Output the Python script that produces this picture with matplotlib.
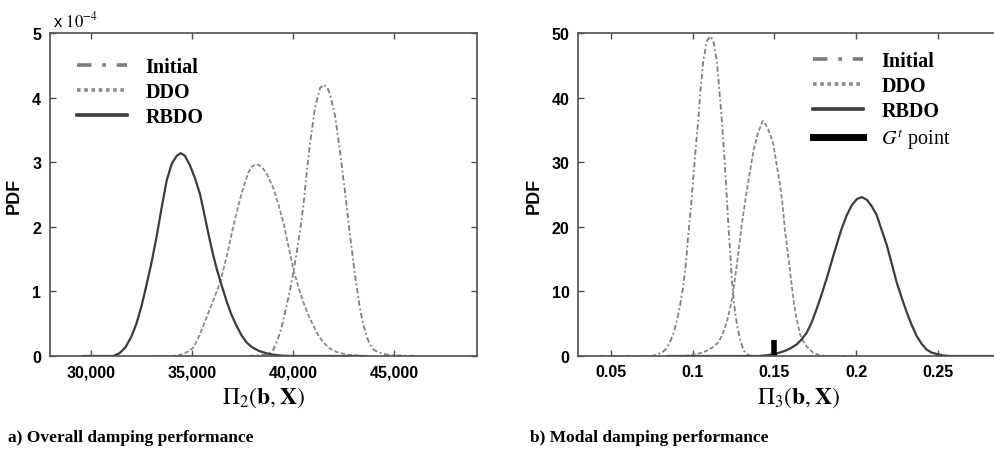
import matplotlib.pyplot as plt
from matplotlib.lines import Line2D

plt.rcParams['mathtext.fontset'] = 'stix'

# ---- panel a: PDF values in units of 1e-4 ----
a_rbdo_x = [29600, 31100, 31400, 31700, 32000, 32250, 32500, 32750, 33000, 33250, 33500,
            33750, 34000, 34250, 34440, 34650, 34900, 35150, 35400, 35560, 35726, 35890,
            36056, 36240, 36420, 36700, 36950, 37200, 37450, 37700, 37950, 38300, 38700,
            39026, 39500, 40000, 43600]
a_rbdo_y = [0, 0, 0.04, 0.13, 0.3, 0.5, 0.77, 1.1, 1.45, 1.85, 2.3,
            2.72, 2.98, 3.1, 3.14, 3.1, 2.95, 2.75, 2.5, 2.27, 2.02, 1.78,
            1.55, 1.33, 1.14, 0.86, 0.64, 0.47, 0.32, 0.21, 0.14, 0.08, 0.04,
            0.02, 0.005, 0, 0]
a_ddo_x = [33000, 34100, 34570, 34800, 35065, 35300, 35560, 35760, 35975, 36200, 36420,
           36600, 36797, 37000, 37211, 37420, 37624, 37800, 37955, 38200, 38450, 38698,
           39026, 39270, 39520, 39770, 40016, 40260, 40511, 40760, 41007, 41250, 41502,
           41800, 42163, 42700, 43500]
a_ddo_y = [0, 0, 0.03, 0.07, 0.13, 0.27, 0.47, 0.63, 0.8, 0.98, 1.17,
           1.4, 1.65, 1.95, 2.22, 2.48, 2.69, 2.85, 2.93, 2.97, 2.93, 2.82,
           2.6, 2.35, 2.07, 1.7, 1.34, 1.07, 0.83, 0.63, 0.47, 0.32, 0.21,
           0.12, 0.06, 0.02, 0]
a_init_x = [37800, 38700, 38870, 39026, 39230, 39438, 39600, 39768, 39900, 40016, 40181,
            40350, 40511, 40680, 40842, 41089, 41337, 41535, 41700, 41832, 42079, 42327,
            42574, 42822, 43069, 43317, 43480, 43647, 43800, 43977, 44200, 44470, 44900, 46300]
a_init_y = [0, 0.02, 0.05, 0.1, 0.24, 0.45, 0.67, 0.9, 1.1, 1.3, 1.6,
            1.95, 2.33, 2.85, 3.3, 3.85, 4.15, 4.2, 4.15, 4.05, 3.72, 3.15,
            2.53, 1.86, 1.24, 0.72, 0.48, 0.3, 0.18, 0.1, 0.06, 0.03, 0.01, 0]

# ---- panel b ----
b_init_x = [0.0435, 0.075, 0.078, 0.0812, 0.0838, 0.0862, 0.0885, 0.0907, 0.0925, 0.0944,
            0.096, 0.0974, 0.099, 0.1005, 0.102, 0.1036, 0.105, 0.1066, 0.109, 0.1111,
            0.113, 0.1148, 0.1163, 0.1178, 0.1189, 0.1199, 0.1209, 0.1219, 0.123, 0.124,
            0.125, 0.126, 0.1275, 0.129, 0.1305, 0.1321, 0.135, 0.14]
b_init_y = [0, 0, 0.2, 0.5, 1.1, 2.1, 3.6, 5.7, 8.0, 10.9,
            14.5, 18.7, 23.0, 27.6, 32.3, 36.9, 41.5, 45.8, 48.9, 49.5,
            48.5, 45.8, 41.5, 36.9, 33.0, 29.1, 24.8, 20.3, 16.0, 12.0,
            9.2, 6.8, 4.4, 2.6, 1.4, 0.5, 0.05, 0]
b_ddo_x = [0.095, 0.1005, 0.105, 0.1087, 0.112, 0.1158, 0.1185, 0.1209, 0.1228, 0.1246,
           0.127, 0.1301, 0.1331, 0.1372, 0.14, 0.1429, 0.1455, 0.1475, 0.1494, 0.1515,
           0.1535, 0.155, 0.1565, 0.1585, 0.1606, 0.162, 0.1637, 0.1657, 0.1677, 0.170,
           0.1738, 0.178, 0.182, 0.1993]
b_ddo_y = [0, 0.2, 0.45, 0.8, 1.3, 2.1, 3.4, 5.2, 7.2, 9.4,
           14.0, 20.3, 25.5, 31.7, 34.5, 36.4, 35.5, 34.3, 32.8, 29.5,
           26.5, 23.5, 19.5, 15.5, 11.0, 8.2, 5.7, 3.4, 2.3, 1.4,
           0.5, 0.1, 0, 0]
b_rbdo_x = [0.085, 0.14, 0.145, 0.1504, 0.1566, 0.16, 0.1637, 0.1668, 0.1698, 0.173,
            0.1759, 0.179, 0.182, 0.185, 0.1881, 0.191, 0.1943, 0.1975, 0.2005, 0.2034,
            0.2065, 0.2095, 0.2126, 0.2155, 0.2187, 0.2218, 0.2248, 0.228, 0.2309, 0.234,
            0.237, 0.24, 0.2431, 0.246, 0.2493, 0.253, 0.257, 0.3]
b_rbdo_y = [0, 0, 0.1, 0.3, 0.8, 1.2, 1.8, 2.6, 3.6, 5.3,
            7.3, 9.6, 12.0, 14.6, 17.2, 19.6, 21.8, 23.4, 24.3, 24.6,
            24.2, 23.2, 21.8, 19.6, 17.2, 14.3, 11.4, 8.9, 6.8, 4.8,
            3.1, 1.9, 1.0, 0.55, 0.3, 0.1, 0, 0]
gt_x = 0.15
gt_top = 2.5

c_init = '#7c7c7c'
c_ddo = '#8a8a8a'
c_rbdo = '#3c3c3c'
spine_c = '#505050'
tick_font = dict(family='Liberation Sans', weight='bold', size=11.5)
leg_font = dict(family='Liberation Serif', weight='bold', size=14.5)

fig = plt.figure(figsize=(9.95, 4.6), dpi=100)
ax1 = fig.add_axes([49.5 / 995, 103 / 460, 427.5 / 995, 323 / 460])
ax2 = fig.add_axes([578 / 995, 103 / 460, 441.7 / 995, 323 / 460])


def style(ax):
    for s in ax.spines.values():
        s.set_color(spine_c)
        s.set_linewidth(1.2)
    ax.tick_params(direction='in', top=True, right=True, length=4, width=1,
                   color=spine_c, pad=6)
    for lab in ax.get_xticklabels() + ax.get_yticklabels():
        lab.set_fontfamily(tick_font['family'])
        lab.set_fontweight(tick_font['weight'])
        lab.set_fontsize(tick_font['size'])
    ax.set_ylabel('PDF', fontfamily='Liberation Sans', fontweight='bold', fontsize=13)


line_kw = dict(solid_joinstyle='round', dash_joinstyle='round')

# panel a
ax1.plot(a_init_x, a_init_y, color=c_init, lw=1.3, ls=(0, (3, 1.5, 1, 1.5)), **line_kw)
ax1.plot(a_ddo_x, a_ddo_y, color=c_ddo, lw=1.3, ls=(0, (2.5, 1.2)), **line_kw)
ax1.plot(a_rbdo_x, a_rbdo_y, color=c_rbdo, lw=1.6, ls='-', **line_kw)
ax1.set_xlim(27950, 49100)
ax1.set_ylim(0, 5)
ax1.set_xticks([30000, 35000, 40000, 45000])
ax1.set_xticklabels(['30,000', '35,000', '40,000', '45,000'])
ax1.set_yticks([0, 1, 2, 3, 4, 5])
style(ax1)
ax1.yaxis.set_label_coords(-0.062, 0.5)
ax1.set_xlabel(r'$\Pi_2(\mathbf{b},\mathbf{X})$', fontsize=17, labelpad=4)
ax1.text(0.008, 1.012, r'x $10^{-4}$', transform=ax1.transAxes, ha='left', va='bottom',
         fontfamily='Liberation Sans', fontsize=12)

h_init = Line2D([], [], color=c_init, lw=2.6, ls=(0, (4, 3, 1, 3)))
h_ddo = Line2D([], [], color=c_ddo, lw=2.6, ls=(0, (1, 1)))
h_rbdo = Line2D([], [], color=c_rbdo, lw=2.6, ls='-')
h_gt = Line2D([], [], color='black', lw=5, ls='-')

ax1.legend([h_init, h_ddo, h_rbdo], ['Initial', 'DDO', 'RBDO'],
           loc='upper left', bbox_to_anchor=(0.022, 0.983), frameon=False,
           prop=leg_font, handlelength=2.5, handletextpad=0.9, labelspacing=0.25)

# panel b
ax2.plot(b_init_x, b_init_y, color=c_init, lw=1.3, ls=(0, (3, 1.5, 1, 1.5)), **line_kw)
ax2.plot(b_ddo_x, b_ddo_y, color=c_ddo, lw=1.3, ls=(0, (2.5, 1.2)), **line_kw)
ax2.plot(b_rbdo_x, b_rbdo_y, color=c_rbdo, lw=1.6, ls='-', **line_kw)
ax2.vlines(gt_x, 0, gt_top, color='black', lw=4)
ax2.set_xlim(0.03, 0.30)
ax2.set_ylim(0, 50)
ax2.set_xticks([0.05, 0.1, 0.15, 0.2, 0.25])
ax2.set_xticklabels(['0.05', '0.1', '0.15', '0.2', '0.25'])
ax2.set_yticks([0, 10, 20, 30, 40, 50])
style(ax2)
ax2.yaxis.set_label_coords(-0.079, 0.5)
ax2.set_xlabel(r'$\Pi_3(\mathbf{b},\mathbf{X})$', fontsize=17, labelpad=4)

leg2 = ax2.legend([h_init, h_ddo, h_rbdo, h_gt],
                  ['Initial', 'DDO', 'RBDO', r'$G^t$ point'],
                  loc='upper left', bbox_to_anchor=(0.491, 1.0), frameon=False,
                  prop=leg_font, handlelength=2.5, handletextpad=0.9, labelspacing=0.25)
leg2.get_texts()[3].set_fontweight('normal')

fig.text(8 / 995, 1 - 438 / 460, 'a) Overall damping performance', ha='left', va='center',
         fontfamily='Liberation Serif', fontweight='bold', fontsize=12.5)
fig.text(530 / 995, 1 - 438 / 460, 'b) Modal damping performance', ha='left', va='center',
         fontfamily='Liberation Serif', fontweight='bold', fontsize=12.5)

fig.savefig('out.png', dpi=100)
